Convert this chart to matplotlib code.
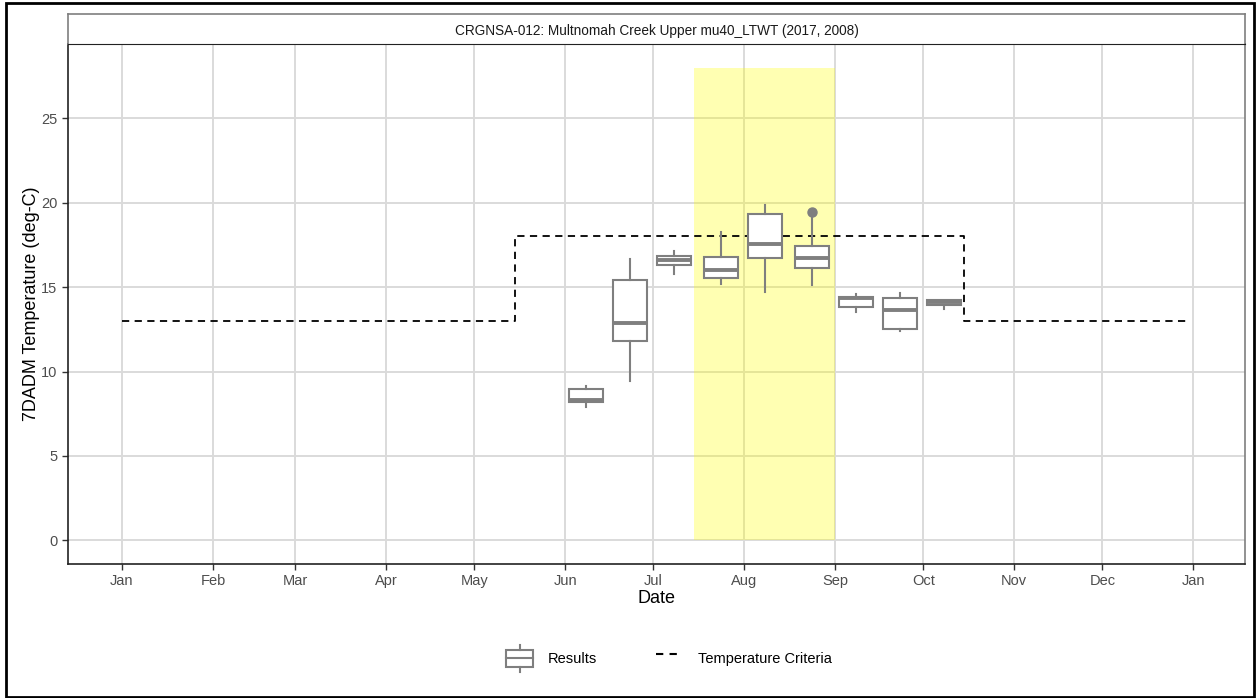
import matplotlib
matplotlib.use("Agg")
import matplotlib.pyplot as plt
import matplotlib.dates as mdates
import numpy as np
from matplotlib.patches import Rectangle
from matplotlib.lines import Line2D
from matplotlib.legend_handler import HandlerBase
from datetime import date

plt.rcParams['font.family'] = ['Liberation Sans', 'DejaVu Sans']

# --- data ---
title = "CRGNSA-012: Multnomah Creek Upper mu40_LTWT (2017, 2008)"
box_dates = [date(2017, 6, 8), date(2017, 6, 23), date(2017, 7, 8), date(2017, 7, 24),
             date(2017, 8, 8), date(2017, 8, 24), date(2017, 9, 8), date(2017, 9, 23),
             date(2017, 10, 8)]
whislo = [7.88, 9.42, 15.76, 15.19, 14.70, 15.13, 13.52, 12.41, 13.70]
q1 = [8.17, 11.82, 16.31, 15.56, 16.71, 16.15, 13.85, 12.53, 13.95]
med = [8.33, 12.90, 16.61, 16.02, 17.54, 16.75, 14.33, 13.65, 14.10]
q3 = [8.97, 15.43, 16.86, 16.81, 19.33, 17.45, 14.44, 14.34, 14.24]
whishi = [9.12, 16.67, 17.16, 18.24, 19.86, 19.15, 14.58, 14.68, 14.26]
fliers = [[], [], [], [], [], [19.42], [], [], []]

crit_dates = [date(2017, 1, 1), date(2017, 5, 15), date(2017, 5, 15),
              date(2017, 10, 15), date(2017, 10, 15), date(2017, 12, 31)]
crit_vals = [13, 13, 18, 18, 13, 13]

window_start = date(2017, 7, 15)
window_end = date(2017, 9, 1)
window_top = 28

month_ticks = [date(2017, m, 1) for m in range(1, 13)] + [date(2018, 1, 1)]
y_ticks = [0, 5, 10, 15, 20, 25]

grey = '#7F7F7F'
grid_col = '#DADADA'

fig = plt.figure(figsize=(12.57, 6.98), dpi=100)
ax = fig.add_axes([68 / 1257, 1 - 564 / 698, (1245 - 68) / 1257, (564 - 44) / 698])

# highlight window
x0 = mdates.date2num(window_start)
x1 = mdates.date2num(window_end)
ax.add_patch(Rectangle((x0, 0), x1 - x0, window_top, facecolor='yellow', alpha=0.3,
                       edgecolor='none', zorder=1.5))

# criteria line
ax.plot(mdates.date2num(crit_dates), crit_vals, color='black', lw=1.3,
        dashes=(4, 3), zorder=3)

# boxes
stats = []
for i in range(len(box_dates)):
    stats.append(dict(whislo=whislo[i], q1=q1[i], med=med[i], q3=q3[i],
                      whishi=whishi[i], fliers=fliers[i]))
ax.bxp(stats, positions=mdates.date2num(box_dates), widths=11.6, patch_artist=True,
       showcaps=False, manage_ticks=False,
       boxprops=dict(facecolor='white', edgecolor=grey, lw=1.5),
       medianprops=dict(color=grey, lw=2.8),
       whiskerprops=dict(color=grey, lw=1.5),
       flierprops=dict(marker='o', markerfacecolor=grey, markeredgecolor=grey,
                       markersize=6.5), zorder=4)

ax.set_xlim(mdates.date2num(date(2017, 1, 1)) - 18.4, mdates.date2num(date(2018, 1, 1)) + 17.6)
ax.set_ylim(-1.4, 29.4)
ax.set_xticks(mdates.date2num(month_ticks))
ax.set_xticklabels([d.strftime('%b') for d in month_ticks])
ax.set_yticks(y_ticks)
ax.grid(True, color=grid_col, lw=1.4, zorder=0)
ax.set_axisbelow(True)
ax.tick_params(colors='#4D4D4D', labelsize=10.5, length=4, width=1)
ax.tick_params(axis='both', color='#333333')
for s in ['left', 'bottom', 'top']:
    ax.spines[s].set_color('#222222')
    ax.spines[s].set_linewidth(1.2)
ax.spines['right'].set_color(grey)
ax.spines['right'].set_linewidth(1.2)
ax.set_xlabel('Date', fontsize=13, labelpad=1)
ax.set_ylabel('7DADM Temperature (deg-C)', fontsize=13, labelpad=1)

# facet strip
sax = fig.add_axes([68 / 1257, 1 - 44 / 698, (1245 - 68) / 1257, 30 / 698])
sax.set_xticks([])
sax.set_yticks([])
for s in ['left', 'right', 'top']:
    sax.spines[s].set_color(grey)
    sax.spines[s].set_linewidth(1.2)
sax.spines['bottom'].set_color('#222222')
sax.text(0.5, 0.45, title, ha='center', va='center', fontsize=9.8, color='#1A1A1A',
         transform=sax.transAxes)


class BoxHandler(HandlerBase):
    def create_artists(self, legend, orig_handle, xdescent, ydescent, width, height,
                       fontsize, trans):
        bx, by = -xdescent, -ydescent
        rect = Rectangle((bx, by + height * 0.15), width, height * 0.7, facecolor='white',
                         edgecolor=grey, lw=1.5, transform=trans)
        m = Line2D([bx, bx + width], [by + height / 2] * 2, color=grey, lw=1.5,
                   transform=trans)
        wt = Line2D([bx + width / 2] * 2, [by + height * 0.85, by + height * 1.05],
                    color=grey, lw=1.5, transform=trans)
        wb = Line2D([bx + width / 2] * 2, [by - height * 0.05, by + height * 0.15],
                    color=grey, lw=1.5, transform=trans)
        return [rect, m, wt, wb]


box_handle = Rectangle((0, 0), 1, 1)
line_handle = Line2D([0], [0], color='black', lw=1.5, dashes=(3.5, 3))
fig.legend([box_handle, line_handle], ['Results', 'Temperature Criteria'],
           handler_map={Rectangle: BoxHandler()}, loc='center',
           bbox_to_anchor=(0.532, 0.057), ncol=2, frameon=False, fontsize=10.5,
           handlelength=1.9, handleheight=2.2, columnspacing=4.0, handletextpad=1.0)

# outer border
fig.patches.append(Rectangle((0.005, 0.002), 0.993, 0.993, transform=fig.transFigure,
                             fill=False, edgecolor='black', lw=2))

fig.savefig('out.png', dpi=100)
